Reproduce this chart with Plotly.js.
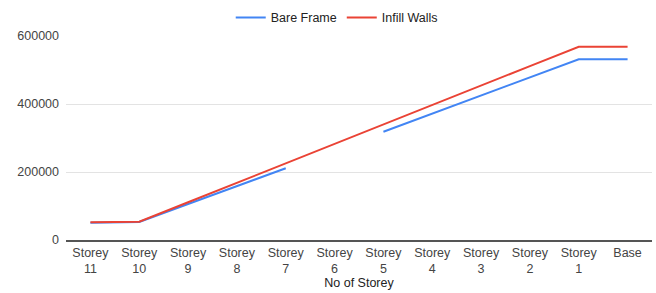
<!DOCTYPE html>
<html>
<head>
<meta charset="utf-8">
<script src="https://cdn.plot.ly/plotly-3.0.1.min.js"></script>
<style>html,body{margin:0;padding:0;background:#fff;}#chart{width:656px;height:293px;}</style>
</head>
<body>
<div id="chart"></div>
<script>
const categories = ["Storey<br>11","Storey<br>10","Storey<br>9","Storey<br>8","Storey<br>7","Storey<br>6","Storey<br>5","Storey<br>4","Storey<br>3","Storey<br>2","Storey<br>1","Base"];
const bareFrame = [51000, 53000, 106000, 158500, 211000, null, 318500, 371700, 425000, 478000, 531400, 531400];
const infillWalls = [52000, 54000, 111000, 168500, 225500, 282500, 340000, 397000, 454000, 511500, 568500, 568500];
const yTicks = [0, 200000, 400000, 600000];

const fam = "Liberation Sans, Arial, sans-serif";
const traces = [
  {x: categories, y: bareFrame, type: "scatter", mode: "lines", name: "Bare Frame",
   line: {color: "#4285F4", width: 2}, connectgaps: false},
  {x: categories, y: infillWalls, type: "scatter", mode: "lines", name: "Infill Walls",
   line: {color: "#EA4335", width: 2}}
];
const layout = {
  width: 656, height: 293,
  margin: {l: 66, r: 4, t: 36, b: 53, autoexpand: false},
  paper_bgcolor: "#fff", plot_bgcolor: "#fff",
  font: {family: fam, size: 12, color: "#444"},
  showlegend: true,
  legend: {orientation: "h", x: 0.462, xanchor: "center", yref: "container", y: 0.99, yanchor: "top",
           font: {family: fam, size: 12.5, color: "#222"}, itemwidth: 30},
  xaxis: {type: "category", range: [-0.5, 11.5], automargin: false,
          tickfont: {family: fam, size: 12.5, color: "#444"},
          showgrid: false, zeroline: false, showline: true, linecolor: "#555", linewidth: 1.5,
          ticks: "", fixedrange: true,
          title: {text: "No of Storey", font: {family: fam, size: 12.5, color: "#222"}, standoff: 2}},
  yaxis: {range: [0, 600000], tickvals: yTicks, ticktext: yTicks.map(String), automargin: false,
          showgrid: true, gridcolor: "#e3e3e3", zeroline: false, showline: false,
          ticks: "", ticklabelstandoff: 6, tickfont: {family: fam, size: 12.5, color: "#444"}}
};
Plotly.newPlot("chart", traces, layout, {displayModeBar: false, staticPlot: true});
</script>
</body>
</html>
